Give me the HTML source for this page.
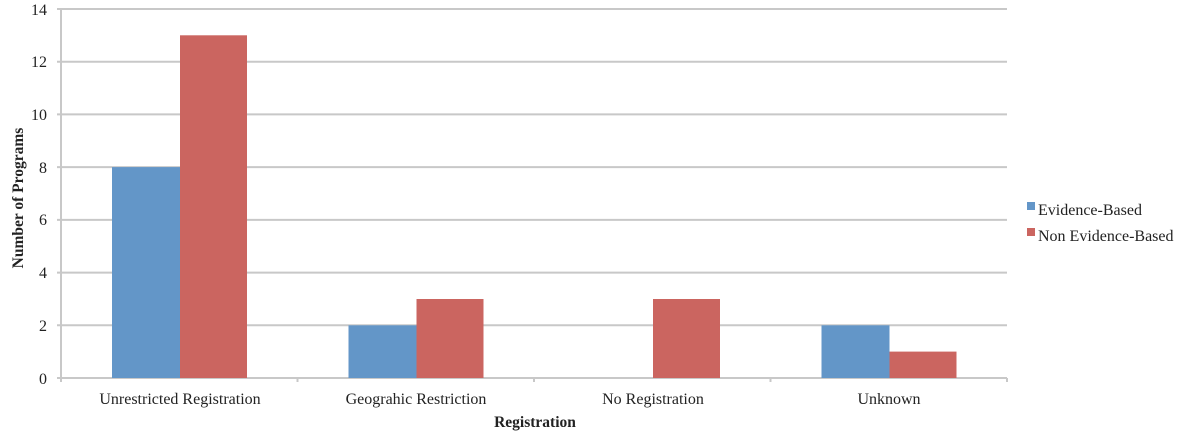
<!DOCTYPE html>
<html><head><meta charset="utf-8"><style>html,body{margin:0;padding:0;background:#fff}svg{display:block}</style></head>
<body>
<svg width="1185" height="439" xmlns="http://www.w3.org/2000/svg" font-family="Liberation Serif, serif">
<g stroke="#c8c8c8" stroke-width="2">
<line x1="57" y1="9" x2="1007" y2="9"/>
<line x1="57" y1="61.7" x2="1007" y2="61.7"/>
<line x1="57" y1="114.4" x2="1007" y2="114.4"/>
<line x1="57" y1="167.1" x2="1007" y2="167.1"/>
<line x1="57" y1="219.9" x2="1007" y2="219.9"/>
<line x1="57" y1="272.6" x2="1007" y2="272.6"/>
<line x1="57" y1="325.3" x2="1007" y2="325.3"/>
<line x1="57" y1="378" x2="1007" y2="378"/>
<line x1="61" y1="9" x2="61" y2="382"/>
<line x1="297.5" y1="378" x2="297.5" y2="382"/>
<line x1="534" y1="378" x2="534" y2="382"/>
<line x1="770.5" y1="378" x2="770.5" y2="382"/>
<line x1="1007" y1="378" x2="1007" y2="382"/>
</g>
<g fill="#6396c8">
<rect x="112" y="167.1" width="68" height="210.9"/>
<rect x="348.5" y="325.3" width="68" height="52.7"/>
<rect x="821.5" y="325.3" width="68" height="52.7"/>
</g>
<g fill="#cb6560">
<rect x="180" y="35.3" width="67" height="342.7"/>
<rect x="416.5" y="299" width="67" height="79"/>
<rect x="653" y="299" width="67" height="79"/>
<rect x="889.5" y="351.6" width="67" height="26.4"/>
</g>
<g font-size="16" fill="#222" text-anchor="end">
<text x="47" y="15">14</text><text x="47" y="67">12</text><text x="47" y="120">10</text>
<text x="47" y="173">8</text><text x="47" y="225">6</text><text x="47" y="278">4</text>
<text x="47" y="331">2</text><text x="47" y="384">0</text>
</g>
<g font-size="16" fill="#222" text-anchor="middle">
<text x="180" y="404">Unrestricted Registration</text>
<text x="416" y="404">Geograhic Restriction</text>
<text x="653" y="404">No Registration</text>
<text x="889" y="404">Unknown</text>
<text x="535" y="427" font-weight="bold" font-size="15.5">Registration</text>
<text transform="translate(23,198) rotate(-90)" font-weight="bold" font-size="15.5">Number of Programs</text>
</g>
<rect x="1027" y="202" width="8" height="8" fill="#6396c8"/>
<rect x="1027" y="228" width="8" height="8" fill="#cb6560"/>
<g font-size="16" fill="#222">
<text x="1038" y="215">Evidence-Based</text>
<text x="1038" y="241">Non Evidence-Based</text>
</g>
</svg>
</body></html>
